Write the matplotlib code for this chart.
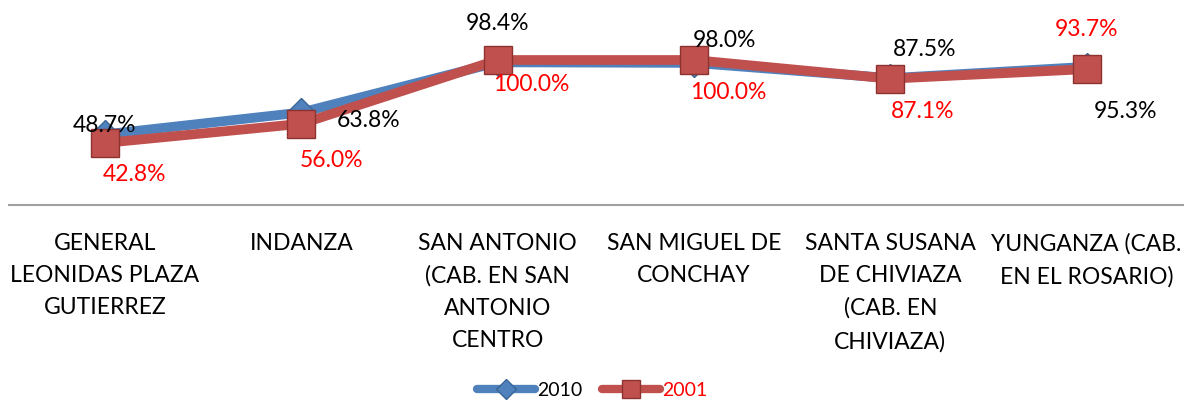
import matplotlib
matplotlib.use("Agg")
import matplotlib.pyplot as plt
from matplotlib.lines import Line2D

categories = ["GENERAL\nLEONIDAS PLAZA\nGUTIERREZ", "INDANZA",
              "SAN ANTONIO\n(CAB. EN SAN\nANTONIO\nCENTRO", "SAN MIGUEL DE\nCONCHAY",
              "SANTA SUSANA\nDE CHIVIAZA\n(CAB. EN\nCHIVIAZA)", "YUNGANZA (CAB.\nEN EL ROSARIO)"]
s2010 = [48.7, 63.8, 98.4, 98.0, 87.5, 95.3]
s2001 = [42.8, 56.0, 100.0, 100.0, 87.1, 93.7]

# label offsets in pixels (style only)
off2010 = [(0, 9), (67, -8), (0, 39), (30, 22), (34, 29), (39, -45)]
off2001 = [(30, -32), (30, -37), (34, -24), (34, -32), (32, -33), (0, 40)]

plt.rcParams['font.family'] = ['Lato', 'DejaVu Sans']
BLUE = '#4F81BD'
RED = '#C0504D'

fig = plt.figure(figsize=(11.84, 4.0), dpi=100)
ax = fig.add_axes([6.8 / 1184, 195 / 400, 1178 / 1184, 203 / 400])
x = list(range(len(categories)))

ax.plot(x, s2010, color=BLUE, lw=7, marker='D', markersize=14,
        markerfacecolor=BLUE, markeredgecolor='#3A6597', markeredgewidth=1,
        clip_on=False, zorder=3, solid_joinstyle='round')
ax.plot(x, s2001, color=RED, lw=7, marker='s', markersize=20,
        markerfacecolor=RED, markeredgecolor='#8C3331', markeredgewidth=1,
        clip_on=False, zorder=4, solid_joinstyle='round')

for i in x:
    ax.annotate(f"{s2010[i]:.1f}%", (i, s2010[i]), xytext=off2010[i],
                textcoords='offset pixels', ha='center', va='center',
                fontsize=16.5, color='black', zorder=6)
    ax.annotate(f"{s2001[i]:.1f}%", (i, s2001[i]), xytext=off2001[i],
                textcoords='offset pixels', ha='center', va='center',
                fontsize=16.5, color='#FF0000', zorder=6)

ax.set_xlim(-0.5, 5.5)
ax.set_ylim(0, 140)
ax.set_xticks(x)
ax.set_xticklabels(categories, fontsize=16.5, linespacing=1.66)
ax.tick_params(axis='x', length=0, pad=20)
ax.set_yticks([])
for sp in ['top', 'right', 'left']:
    ax.spines[sp].set_visible(False)
ax.spines['bottom'].set_color('#A0A0A0')
ax.spines['bottom'].set_linewidth(1.5)
ax.spines['bottom'].set_bounds(-0.49, 5.5)

h1 = Line2D([], [], color=BLUE, lw=6, marker='D', markersize=10,
            markerfacecolor=BLUE, markeredgecolor='#3A6597', solid_capstyle='round')
h2 = Line2D([], [], color=RED, lw=6, marker='s', markersize=13,
            markerfacecolor=RED, markeredgecolor='#8C3331', solid_capstyle='round')
leg = fig.legend([h1, h2], ['2010', '2001'], loc='center', bbox_to_anchor=(0.5, 0.025),
                 ncol=2, frameon=False, fontsize=14, handlelength=3,
                 handletextpad=0.1, columnspacing=1.0)
leg.get_texts()[1].set_color('#FF0000')

fig.savefig('out.png', dpi=100)
